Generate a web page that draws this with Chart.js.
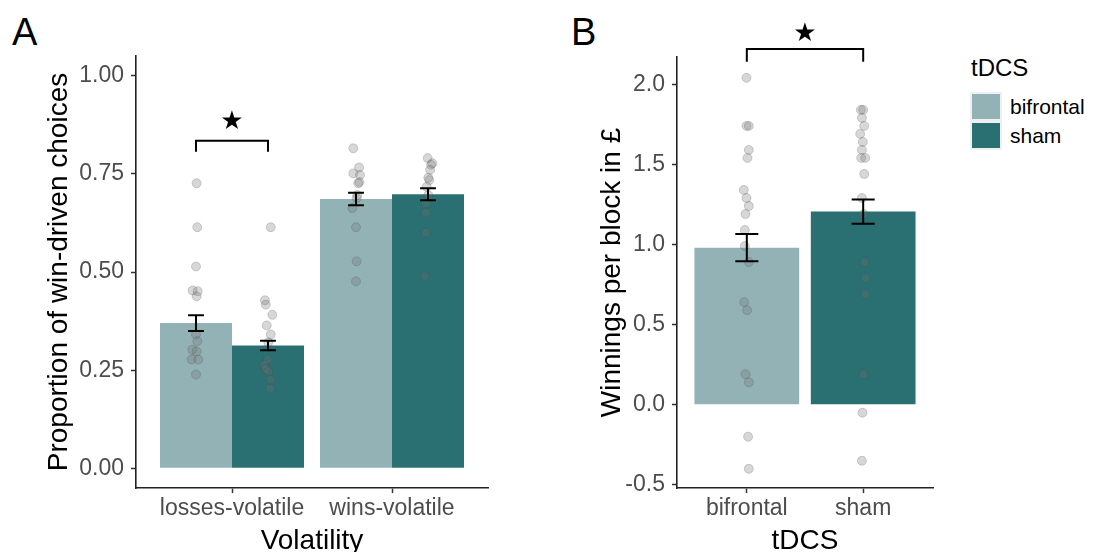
<!DOCTYPE html>
<html>
<head>
<meta charset="utf-8">
<script src="https://cdn.jsdelivr.net/npm/chart.js@4.4.1/dist/chart.umd.min.js"></script>
<style>
  body { margin: 0; background: #fff; width: 1106px; height: 552px; position: relative; overflow: hidden;
         font-family: 'Liberation Sans', Arial, sans-serif; }
  canvas { position: absolute; top: 0; }
  #chartA { left: 0; }
  #chartB { left: 540px; }
  .panel-letter { position: absolute; top: 13px; font-size: 38px; line-height: 1; color: #000; }
  #legend { position: absolute; left: 970px; top: 56px; }
  .legend-title { font-size: 24px; line-height: 1; margin-left: 1px; margin-bottom: 12px; }
  .legend-row { display: flex; align-items: center; height: 29px; }
  .legend-key { width: 28px; height: 25px; border: 2px solid #eef1f1; }
  .legend-label { font-size: 21px; margin-left: 8px; color: #000; }
</style>
</head>
<body>
<div class="panel-letter" style="left:12px">A</div>
<div class="panel-letter" style="left:571px">B</div>
<canvas id="chartA" width="540" height="552"></canvas>
<canvas id="chartB" width="420" height="552"></canvas>
<div id="legend"></div>
<script>
const FONT = "'Liberation Sans', Arial, sans-serif";
const bifrontalColour = '#93b2b5';
const shamColour = '#2a7072';

// Panel A : proportion of win-driven choices by volatility condition
const volatility = ['losses-volatile', 'wins-volatile'];
const propTicks = [0, 0.25, 0.5, 0.75, 1];
const propMeanBifrontal = [0.370, 0.686];
const propMeanSham = [0.313, 0.698];
const propSeBifrontal = [0.020, 0.016];
const propSeSham = [0.012, 0.015];

// individual participants (values + small horizontal jitter, in category units)
const lossesBifrontal = [0.726, 0.614, 0.514, 0.453, 0.451, 0.438, 0.341, 0.324, 0.302, 0.298, 0.277, 0.277, 0.239];
const lossesBifrontalJitter = [0.004, 0.008, 0, -0.021, 0.011, 0.004, 0, 0.008, -0.023, 0.004, -0.027, 0.014, 0];
const lossesSham = [0.614, 0.428, 0.417, 0.391, 0.364, 0.341, 0.321, 0.277, 0.264, 0.253, 0.247, 0.226, 0.203];
const lossesShamJitter = [0.017, -0.019, -0.014, 0.027, -0.008, 0.017, 0.002, -0.002, -0.025, -0.013, 0.002, 0.017, 0.013];
const winsBifrontal = [0.815, 0.766, 0.751, 0.747, 0.729, 0.726, 0.696, 0.688, 0.663, 0.614, 0.527, 0.476];
const winsBifrontalJitter = [-0.017, 0.019, -0.017, 0.025, 0.021, 0.014, 0.008, 0.004, -0.023, 0, 0.004, 0];
const winsSham = [0.790, 0.777, 0.773, 0.760, 0.740, 0.734, 0.717, 0.696, 0.675, 0.651, 0.600, 0.489];
const winsShamJitter = [-0.002, 0.027, 0.019, 0.013, 0.002, 0.008, -0.008, 0.002, -0.013, -0.013, -0.013, -0.019];

// Panel B : winnings per block by stimulation group
const tdcsGroups = ['bifrontal', 'sham'];
const winTicks = [-0.5, 0, 0.5, 1, 1.5, 2];
const winMean = [0.980, 1.205];
const winSe = [0.085, 0.076];
const winBifrontal = [2.04, 1.74, 1.74, 1.59, 1.54, 1.34, 1.29, 1.24, 1.19, 1.09, 0.99, 0.89, 0.64, 0.59, 0.19, 0.14, -0.20, -0.40];
const winBifrontalJitter = [-0.003, -0.003, 0.017, 0.017, 0.006, -0.026, -0.003, 0.017, -0.011, -0.017, -0.017, 0.017, -0.023, 0.003, -0.011, 0.017, 0.011, 0.017];
const winShamPts = [1.84, 1.84, 1.79, 1.74, 1.69, 1.64, 1.59, 1.54, 1.54, 1.44, 1.29, 1.19, 0.89, 0.79, 0.69, 0.19, -0.05, -0.35];
const winShamJitter = [-0.020, 0, -0.011, 0.009, -0.026, -0.003, -0.011, -0.017, 0.017, 0.009, -0.011, 0.003, 0.011, 0.020, 0.017, 0.003, -0.006, -0.011];

const dodge = 0.9 / 4; // half of one dodged bar, in category units

const pointStyle = {
  type: 'scatter',
  order: 1,
  pointRadius: 4.5,
  pointHoverRadius: 4.5,
  backgroundColor: 'rgba(110,110,110,0.28)',
  borderColor: 'rgba(70,70,70,0.22)',
  borderWidth: 1,
};

const toPoints = (values, jitter, centre) => values.map((v, i) => ({ x: centre + jitter[i], y: v }));

// mean +/- se whiskers on top of every bar that carries an "errors" array
const errorBarPlugin = {
  id: 'errorBars',
  afterDatasetsDraw(chart) {
    const { ctx } = chart;
    const y = chart.scales.y;
    chart.data.datasets.forEach((ds, i) => {
      if (!ds.errors) return;
      chart.getDatasetMeta(i).data.forEach((bar, j) => {
        const mean = ds.data[j].y;
        const top = y.getPixelForValue(mean + ds.errors[j]);
        const bottom = y.getPixelForValue(mean - ds.errors[j]);
        const half = bar.width * 0.11;
        ctx.save();
        ctx.strokeStyle = '#000';
        ctx.lineWidth = 2;
        ctx.beginPath();
        ctx.moveTo(bar.x, top); ctx.lineTo(bar.x, bottom);
        ctx.moveTo(bar.x - half, top); ctx.lineTo(bar.x + half, top);
        ctx.moveTo(bar.x - half, bottom); ctx.lineTo(bar.x + half, bottom);
        ctx.stroke();
        ctx.restore();
      });
    });
  },
};

// significance bracket between the first bar of dataset 0 and dataset 1
const signifPlugin = {
  id: 'signif',
  afterDraw(chart, args, opts) {
    const { ctx } = chart;
    const y = chart.scales.y;
    const a = chart.getDatasetMeta(0).data[0];
    const b = chart.getDatasetMeta(1).data[0];
    const yLine = y.getPixelForValue(opts.line);
    const yTip = y.getPixelForValue(opts.tip);
    ctx.save();
    ctx.strokeStyle = '#000';
    ctx.lineWidth = 2;
    ctx.beginPath();
    ctx.moveTo(a.x, yTip); ctx.lineTo(a.x, yLine); ctx.lineTo(b.x, yLine); ctx.lineTo(b.x, yTip);
    ctx.stroke();
    ctx.fillStyle = '#000';
    ctx.font = "26px 'DejaVu Sans'";
    ctx.textAlign = 'center';
    ctx.textBaseline = 'middle';
    ctx.fillText('★', (a.x + b.x) / 2, y.getPixelForValue(opts.star));
    ctx.restore();
  },
};

const axisCommon = (title, titlePad) => ({
  grid: { drawOnChartArea: false, offset: false, tickLength: 5, tickWidth: 1.5, tickColor: '#333' },
  border: { color: '#222', width: 1.6 },
  ticks: { color: '#4d4d4d', font: { size: 23, family: FONT }, padding: 7, autoSkip: false, maxRotation: 0 },
  title: { display: true, text: title, color: '#000', font: { size: 28, family: FONT }, padding: titlePad },
});

const xAxis = (names, title) => ({
  ...axisCommon(title, { top: 0, bottom: 0 }),
  type: 'linear',
  min: 0.4,
  max: names.length + 0.6,
  offset: false,
  afterBuildTicks: (scale) => { scale.ticks = names.map((_, i) => ({ value: i + 1 })); },
  afterFit: (scale) => { scale.height = 64; },
  ticks: { ...axisCommon().ticks, padding: 2, callback: (v) => names[v - 1] },
  title: { ...axisCommon(title).title, font: { size: 28, family: FONT, lineHeight: 0.8 }, padding: 0 },
});

const yAxis = (ticks, min, max, digits, title, titlePad, width) => ({
  ...axisCommon(title, { top: titlePad, bottom: 0 }),
  min,
  max,
  afterBuildTicks: (scale) => { scale.ticks = ticks.map((v) => ({ value: v })); },
  afterFit: (scale) => { scale.width = width; },
  ticks: { ...axisCommon().ticks, callback: (v) => v.toFixed(digits) },
});

const chartA = new Chart(document.getElementById('chartA'), {
  type: 'bar',
  data: {
    datasets: [
      { label: 'bifrontal', order: 2, backgroundColor: bifrontalColour, errors: propSeBifrontal,
        data: volatility.map((_, i) => ({ x: i + 1, y: propMeanBifrontal[i] })) },
      { label: 'sham', order: 2, backgroundColor: shamColour, errors: propSeSham,
        data: volatility.map((_, i) => ({ x: i + 1, y: propMeanSham[i] })) },
      { ...pointStyle, data: toPoints(lossesBifrontal, lossesBifrontalJitter, 1 - dodge) },
      { ...pointStyle, data: toPoints(lossesSham, lossesShamJitter, 1 + dodge) },
      { ...pointStyle, data: toPoints(winsBifrontal, winsBifrontalJitter, 2 - dodge) },
      { ...pointStyle, data: toPoints(winsSham, winsShamJitter, 2 + dodge) },
    ],
  },
  options: {
    responsive: false,
    animation: false,
    categoryPercentage: 0.9,
    barPercentage: 1,
    layout: { padding: { top: 56, right: 52, left: 0, bottom: 0 } },
    plugins: {
      legend: { display: false },
      tooltip: { enabled: false },
      signif: { line: 0.834, tip: 0.806, star: 0.882 },
    },
    scales: {
      x: xAxis(volatility, 'Volatility'),
      y: yAxis(propTicks, -0.05, 1.05, 2, 'Proportion of win-driven choices', 42, 136),
    },
  },
  plugins: [errorBarPlugin, signifPlugin],
});

const chartB = new Chart(document.getElementById('chartB'), {
  type: 'bar',
  data: {
    datasets: [
      { label: tdcsGroups[0], order: 2, grouped: false, backgroundColor: bifrontalColour, errors: [winSe[0]],
        data: [{ x: 1, y: winMean[0] }] },
      { label: tdcsGroups[1], order: 2, grouped: false, backgroundColor: shamColour, errors: [winSe[1]],
        data: [{ x: 2, y: winMean[1] }] },
      { ...pointStyle, data: toPoints(winBifrontal, winBifrontalJitter, 1) },
      { ...pointStyle, data: toPoints(winShamPts, winShamJitter, 2) },
    ],
  },
  options: {
    responsive: false,
    animation: false,
    categoryPercentage: 0.9,
    barPercentage: 1,
    layout: { padding: { top: 57, right: 27, left: 0, bottom: 0 } },
    plugins: {
      legend: { display: false },
      tooltip: { enabled: false },
      signif: { line: 2.22, tip: 2.14, star: 2.31 },
    },
    scales: {
      x: xAxis(tdcsGroups, 'tDCS'),
      y: yAxis(winTicks, -0.52, 2.17, 1, 'Winnings per block in £', 55, 137),
    },
  },
  plugins: [errorBarPlugin, signifPlugin],
});

// legend built from the bar datasets of panel B
const legend = document.getElementById('legend');
const legendTitle = document.createElement('div');
legendTitle.className = 'legend-title';
legendTitle.textContent = 'tDCS';
legend.appendChild(legendTitle);
chartB.data.datasets.filter((ds) => ds.type !== 'scatter').forEach((ds) => {
  const row = document.createElement('div');
  row.className = 'legend-row';
  const key = document.createElement('div');
  key.className = 'legend-key';
  key.style.background = ds.backgroundColor;
  const label = document.createElement('span');
  label.className = 'legend-label';
  label.textContent = ds.label;
  row.appendChild(key);
  row.appendChild(label);
  legend.appendChild(row);
});
</script>
</body>
</html>
